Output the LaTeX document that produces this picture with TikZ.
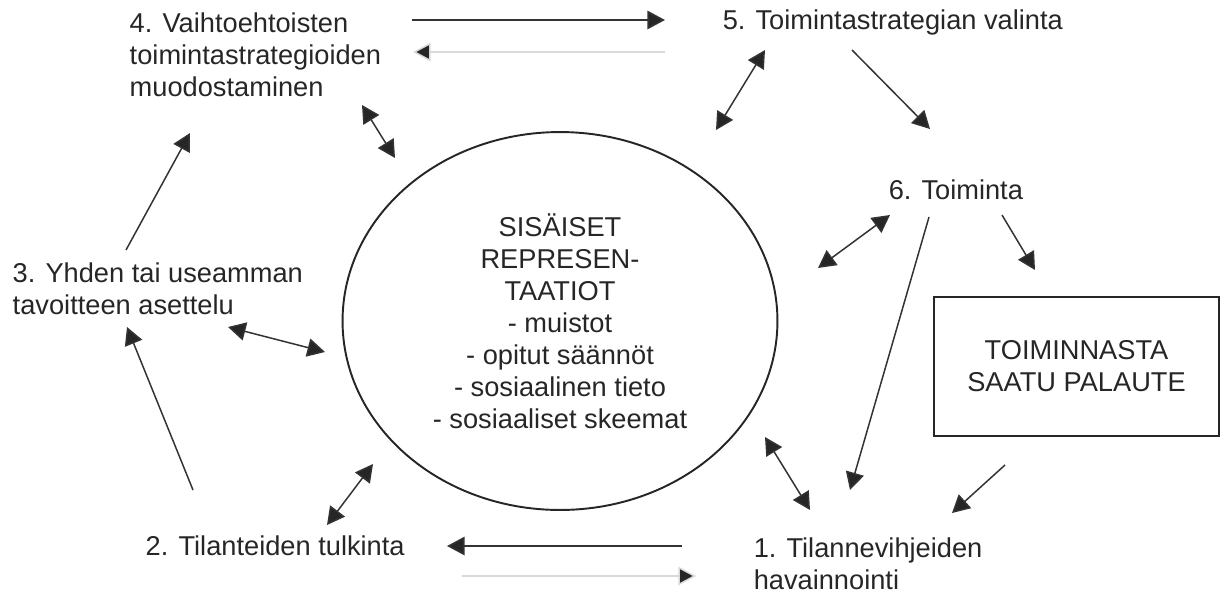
\documentclass[tikz,border=0pt]{standalone}
\usepackage{fontspec}
\setmainfont{Liberation Sans}
\usetikzlibrary{arrows.meta,shapes.geometric}

\begin{document}
\begin{tikzpicture}[x=0.02cm,y=-0.02cm,>={Triangle[length=10pt,width=10.5pt]},
			line width=0.85pt, draw=black!85]
				\tikzstyle{every node}=
				[font=\fontsize{15.5}{18.2}\selectfont,text=black!85]
				\tikzstyle{phase}=[anchor=west,align=left,inner sep=0pt]
				\tikzstyle{link}=[draw=black!80]
				\tikzstyle{faint}=[draw=black!15]
				
				\useasboundingbox (0,0) rectangle (1221,593);
				
				% phases of the cycle
				\node[phase] (n1) at (753,564) {1. Tilannevihjeiden\\havainnointi};
				\node[phase] (n2) at (145,546) {2. Tilanteiden tulkinta};
				\node[phase] (n3) at (12,289) {3. Yhden tai useamman\\tavoitteen asettelu};
				\node[phase] (n4) at (129,55) {4. Vaihtoehtoisten\\toimintastrategioiden\\muodostaminen};
				\node[phase] (n5) at (722,22) {5. Toimintastrategian valinta};
				\node[phase] (n6) at (888,190) {6. Toiminta};
				
				\node[ellipse,draw,line width=1.1pt,minimum width=8.7cm,minimum height=7.56cm,
					inner sep=0pt,align=center] (mem) at (560,321)
					{SISÄISET\\REPRESEN-\\TAATIOT\\- muistot\\- opitut säännöt\\- sosiaalinen tieto\\- sosiaaliset skeemat};
				\node[draw,line width=1.4pt,minimum width=5.7cm,minimum height=2.78cm,
					align=center] (fb) at (1076.5,366.5) {TOIMINNASTA\\SAATU PALAUTE};
				
				% arrow ends
				\coordinate (a45) at (412,20);  \coordinate (a54) at (665,20);
				\coordinate (b54) at (665,52);  \coordinate (b45) at (413,52);
				\coordinate (a12) at (682,546); \coordinate (a21) at (447,546);
				\coordinate (b21) at (462,576); \coordinate (b12) at (696,576);
				\coordinate (m5) at (716,130);  \coordinate (c5) at (765,50);
				\coordinate (c56) at (852,50);  \coordinate (c65) at (930,129);
				\coordinate (m6) at (818,268);  \coordinate (c6) at (890,215);
				\coordinate (c61) at (929,217); \coordinate (c16) at (850,490);
				\coordinate (c6f) at (1002,215); \coordinate (cf6) at (1035,270);
				\coordinate (m1) at (765,437);  \coordinate (c1) at (810,510);
				\coordinate (cf1) at (1005,465); \coordinate (c1f) at (952,513);
				\coordinate (c4) at (362,105);  \coordinate (m4) at (395,158);
				\coordinate (c34) at (126,250); \coordinate (c43) at (190,133);
				\coordinate (c3) at (228,327);  \coordinate (m3) at (325,352);
				\coordinate (c23) at (193,490); \coordinate (c32) at (127,327);
				\coordinate (c2) at (327,525);  \coordinate (m2) at (373,464);
				
				\path[link] (a45) edge[->] (a54)
						(a12) edge[->] (a21)
						(m5) edge[<->] (c5)
						(c56) edge[->] (c65)
						(m6) edge[<->] (c6)
						(c61) edge[->] (c16)
						(c6f) edge[->] (cf6)
						(m1) edge[<->] (c1)
						(cf1) edge[->] (c1f)
						(c4) edge[<->] (m4)
						(c34) edge[->] (c43)
						(c3) edge[<->] (m3)
						(c23) edge[->] (c32)
						(c2) edge[<->] (m2);
				\path[faint] (b54) edge[->] (b45)
						(b21) edge[->] (b12);
			\end{tikzpicture}
\end{document}
